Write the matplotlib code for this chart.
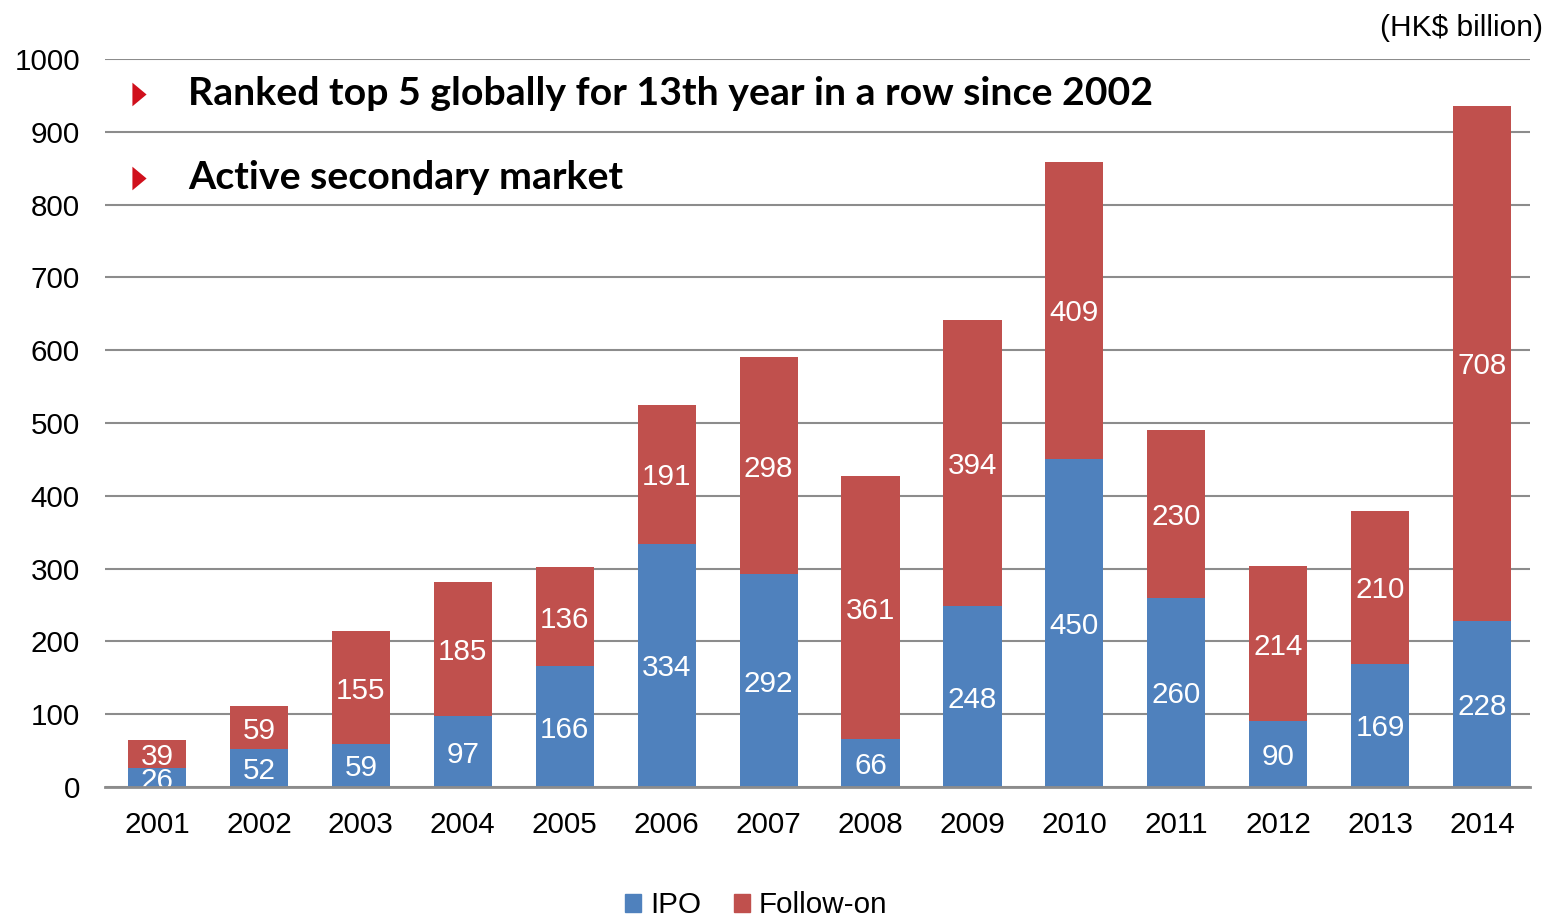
import matplotlib
matplotlib.use("Agg")
import matplotlib.pyplot as plt
from matplotlib.patches import Patch
from matplotlib.path import Path

years = ["2001", "2002", "2003", "2004", "2005", "2006", "2007", "2008", "2009", "2010", "2011", "2012", "2013", "2014"]
ipo = [26, 52, 59, 97, 166, 334, 292, 66, 248, 450, 260, 90, 169, 228]
follow_on = [39, 59, 155, 185, 136, 191, 298, 361, 394, 409, 230, 214, 210, 708]
yticks = [0, 100, 200, 300, 400, 500, 600, 700, 800, 900, 1000]
notes = ["Ranked top 5 globally for 13th year in a row since 2002", "Active secondary market"]

BLUE = "#4F81BD"
RED = "#C0504D"
FONT = "Liberation Sans"
FS = 21.3

fig = plt.figure(figsize=(15.46, 9.17), dpi=100)
ax = fig.add_axes([0.0679, 0.1418, 0.9218, 0.7939])
x = list(range(len(years)))
w = 0.57
ax.bar(x, ipo, width=w, color=BLUE, zorder=3)
ax.bar(x, follow_on, width=w, bottom=ipo, color=RED, zorder=3)
for i in x:
    ax.text(i, ipo[i] / 2, str(ipo[i]), ha="center", va="center_baseline", color="white",
            fontsize=FS, family=FONT, zorder=4)
    ax.text(i, ipo[i] + follow_on[i] / 2, str(follow_on[i]), ha="center", va="center_baseline",
            color="white", fontsize=FS, family=FONT, zorder=4)

ax.set_xlim(-0.51, 13.47)
ax.set_ylim(0, 1000)
ax.set_yticks(yticks)
ax.set_xticks(x)
ax.set_xticklabels(years)
ax.tick_params(axis="both", length=0, labelsize=FS)
ax.tick_params(axis="x", pad=17)
ax.tick_params(axis="y", pad=18)
for lab in ax.get_xticklabels() + ax.get_yticklabels():
    lab.set_family(FONT)
ax.grid(axis="y", color="#8C8C8C", linewidth=1.5, zorder=0)
for s in ["top", "right", "left"]:
    ax.spines[s].set_visible(False)
ax.spines["bottom"].set_color("#8C8C8C")
ax.spines["bottom"].set_linewidth(2)
ax.spines["bottom"].set_zorder(5)

fig.text(0.998, 0.97, "(HK$ billion)", ha="right", va="center", fontsize=21.5, family=FONT)

tri = Path([(-0.3, 0.5), (0.3, 0.0), (-0.3, -0.5), (-0.3, 0.5)],
           [Path.MOVETO, Path.LINETO, Path.LINETO, Path.CLOSEPOLY])
for yp, note in zip([0.898, 0.806], notes):
    ax.plot([0.0897], [yp], marker=tri, markersize=17, color="#D0101C", markeredgewidth=0,
            transform=fig.transFigure, clip_on=False, zorder=6)
    fig.text(0.1215, yp, note, ha="left", va="center", fontsize=28.3, fontweight="bold",
             family="Lato")

handles = [Patch(color=BLUE, label="IPO"), Patch(color=RED, label="Follow-on")]
fig.legend(handles=handles, loc="center", bbox_to_anchor=(0.489, 0.013), ncol=2, frameon=False,
           prop={"family": FONT, "size": FS}, handlelength=0.55, handleheight=0.55,
           handletextpad=0.3, columnspacing=1.1)

fig.savefig("out.png", dpi=100)
